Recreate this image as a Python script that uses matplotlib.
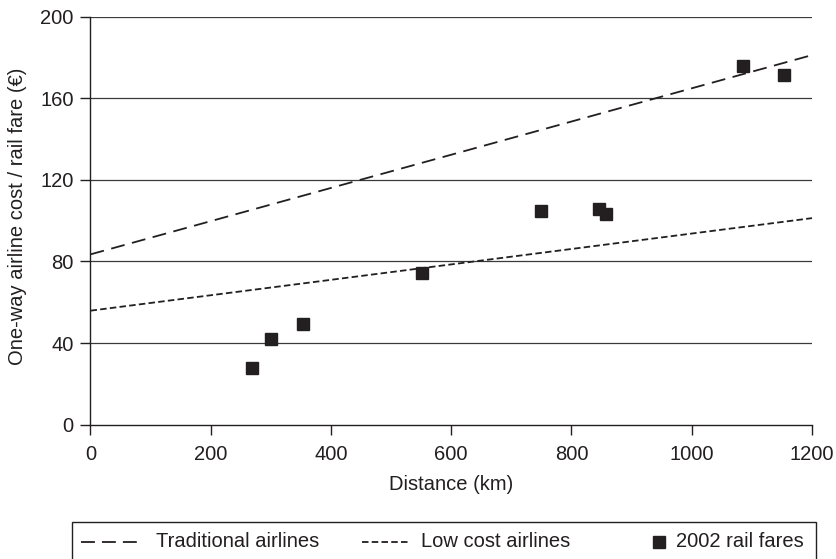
import matplotlib
matplotlib.use("Agg")
import matplotlib.pyplot as plt
from matplotlib.lines import Line2D
from matplotlib.patches import Rectangle
import numpy as np

plt.rcParams['font.family'] = ['Liberation Sans', 'DejaVu Sans']

INK = '#231f20'
FS = 14.5

# Rail fares (2002) by route distance
rail_distance_km = [269, 301, 354, 552, 750, 845, 857, 1085, 1154]
rail_fare_eur = [27.9, 42.0, 49.2, 74.2, 104.8, 105.6, 103.4, 175.8, 171.4]

# Airline cost trend lines: intercept (EUR) and slope (EUR per km)
traditional_intercept, traditional_slope = 83.5, 0.0814
lowcost_intercept, lowcost_slope = 55.9, 0.0378

x_ticks = [0, 200, 400, 600, 800, 1000, 1200]
y_ticks = [0, 40, 80, 120, 160, 200]

W, H = 837, 559
x0, x1, ytop, ybot = 90.5, 812, 16.7, 424.7
fig = plt.figure(figsize=(W / 100, H / 100), dpi=100)
ax = fig.add_axes([x0 / W, 1 - ybot / H, (x1 - x0) / W, (ybot - ytop) / H])

ax.set_xlim(0, 1200)
ax.set_ylim(0, 200)

# horizontal grid
for yv in y_ticks[1:]:
    ax.axhline(yv, color='#3a3a3a', lw=0.9, zorder=1)

xs = np.array([0, 1200])
lw = 1.3
long_dash = (0, (7.7, 4.2))
short_dash = (0, (3.6, 1.8))
ax.plot(xs, traditional_intercept + traditional_slope * xs, color=INK, lw=lw,
        linestyle=long_dash, zorder=3, clip_on=False)
ax.plot(xs, lowcost_intercept + lowcost_slope * xs, color=INK, lw=lw,
        linestyle=short_dash, zorder=3, clip_on=False)
ax.plot(rail_distance_km, rail_fare_eur, linestyle='none', marker='s',
        markersize=8.9, color=INK, zorder=4)

for s in ['top', 'right']:
    ax.spines[s].set_visible(False)
for s in ['left', 'bottom']:
    ax.spines[s].set_color(INK)
    ax.spines[s].set_linewidth(1.0)

ax.set_xticks(x_ticks)
ax.set_yticks(y_ticks)
ax.tick_params(axis='both', direction='out', length=7.2, width=1.0, color=INK,
               labelsize=FS, labelcolor=INK)
ax.tick_params(axis='y', pad=5)
ax.tick_params(axis='x', pad=7.5)

ax.set_xlabel('Distance (km)', fontsize=FS, color=INK)
ax.xaxis.label.set_va('center')
ax.xaxis.set_label_coords(0.5, (ybot - 485) / (ybot - ytop))
ax.set_ylabel('One-way airline cost / rail fare (€)', fontsize=FS, color=INK)
ax.yaxis.label.set_va('center')
ax.yaxis.set_label_coords((18 - x0) / (x1 - x0), (ybot - 216) / (ybot - ytop))

# legend box along the bottom, built in pixel positions of the figure
def fx(px):
    return px / W

def fy(py):
    return 1 - py / H

fig.add_artist(Rectangle((fx(72), fy(580)), fx(816) - fx(72), fy(522) - fy(580),
                         transform=fig.transFigure, fill=False, edgecolor=INK,
                         lw=1.0, clip_on=False))
ly = fy(541.5)
fig.add_artist(Line2D([fx(81), fx(142)], [ly, ly], transform=fig.transFigure,
                      color=INK, lw=lw, linestyle=(0, (7.7, 3.9))))
fig.text(fx(156), ly, 'Traditional airlines', fontsize=FS, color=INK, va='center')
fig.add_artist(Line2D([fx(362), fx(410)], [ly, ly], transform=fig.transFigure,
                      color=INK, lw=lw, linestyle=short_dash))
fig.text(fx(421), ly, 'Low cost airlines', fontsize=FS, color=INK, va='center')
fig.add_artist(Line2D([fx(659.5)], [ly], transform=fig.transFigure, color=INK,
                      marker='s', markersize=8.9, linestyle='none'))
fig.text(fx(676), ly, '2002 rail fares', fontsize=FS, color=INK, va='center')

fig.savefig('out.png', dpi=100)
